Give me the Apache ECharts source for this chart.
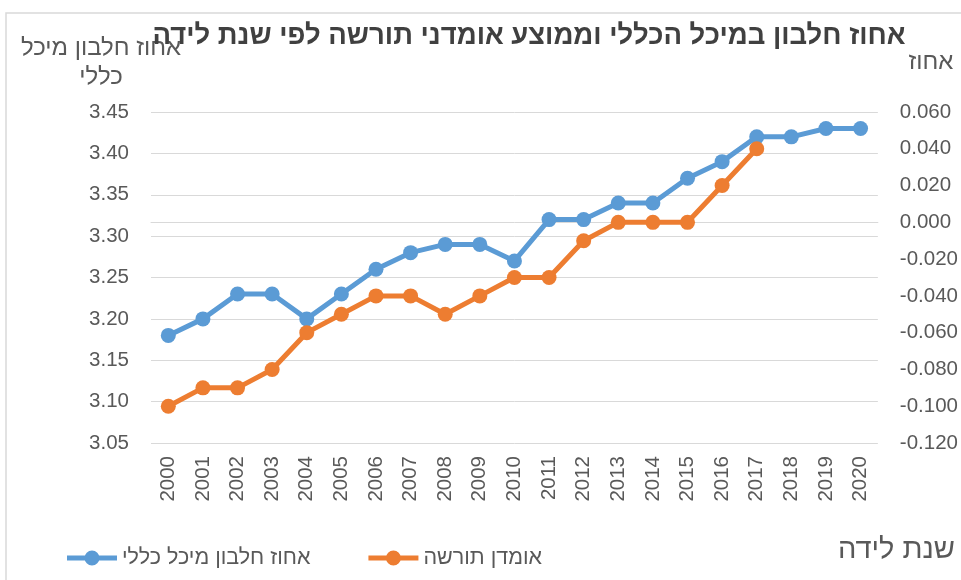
<!DOCTYPE html>
<html>
<head>
<meta charset="utf-8">
<script src="https://cdn.jsdelivr.net/npm/echarts@6/dist/echarts.min.js"></script>
<style>
html, body { margin: 0; padding: 0; background: #fff; }
#main { width: 961px; height: 580px; }
</style>
</head>
<body>
<div id="main"></div>
<script>
// שנות לידה
var years = ['2000','2001','2002','2003','2004','2005','2006','2007','2008','2009','2010',
             '2011','2012','2013','2014','2015','2016','2017','2018','2019','2020'];
// אחוז חלבון מיכל כללי (left axis)
var proteinPct = [3.18, 3.20, 3.23, 3.23, 3.20, 3.23, 3.26, 3.28, 3.29, 3.29, 3.27,
                  3.32, 3.32, 3.34, 3.34, 3.37, 3.39, 3.42, 3.42, 3.43, 3.43];
// אומדן תורשה (right axis)
var breedingValue = [-0.100, -0.090, -0.090, -0.080, -0.060, -0.050, -0.040, -0.040, -0.050, -0.040, -0.030,
                     -0.030, -0.010, 0.000, 0.000, 0.000, 0.020, 0.040, null, null, null];

var FONT = '"Liberation Sans", "DejaVu Sans", sans-serif';
var TXT = '#595959';
var GRID_LINE = '#d9d9d9';
// legend icon: thick line with a dot in the middle (like Excel)
var LEG_ICON = 'path://M0,5 L50,5 L50,10 L0,10 Z M17.5,7.5 A7.5,7.5 0 1,1 32.5,7.5 A7.5,7.5 0 1,1 17.5,7.5 Z';

var chart = echarts.init(document.getElementById('main'));
chart.setOption({
    animation: false,
    textStyle: { fontFamily: FONT },
    title: {
        text: 'אחוז חלבון במיכל הכללי וממוצע אומדני תורשה לפי שנת לידה',
        left: 524,
        textAlign: 'center',
        top: 17,
        textStyle: { fontFamily: FONT, fontSize: 27.5, fontWeight: 'bold', color: '#404040' }
    },
    legend: {
        left: 62,
        top: 542,
        itemWidth: 50,
        itemHeight: 15,
        itemGap: 58,
        textStyle: { fontFamily: FONT, fontSize: 21.5, color: TXT },
        data: [
            { name: 'אחוז חלבון מיכל כללי', icon: LEG_ICON },
            { name: 'אומדן תורשה', icon: LEG_ICON }
        ]
    },
    grid: { left: 151, right: 83, top: 112, bottom: 137 }, // גבולות שטח הציור
    xAxis: {
        type: 'category',
        data: years,
        axisTick: { show: false },
        axisLine: { lineStyle: { color: GRID_LINE, width: 1 } },
        axisLabel: { rotate: 90, fontSize: 20.5, color: TXT, margin: 13 }
    },
    yAxis: [{
        type: 'value',
        min: 3.05,
        max: 3.45,
        interval: 0.05,
        name: 'אחוז חלבון מיכל\nכללי',
        nameLocation: 'end',
        nameGap: 20,
        nameTextStyle: { fontSize: 24, color: TXT, align: 'center', lineHeight: 29, padding: [0, 100, 0, 0] },
        axisLine: { show: false },
        axisTick: { show: false },
        axisLabel: { fontSize: 20.5, color: TXT, margin: 22, formatter: function (v) { return v.toFixed(2); } },
        splitLine: { lineStyle: { color: GRID_LINE, width: 1 } }
    }, {
        type: 'value',
        min: -0.12,
        max: 0.06,
        interval: 0.02,
        name: 'אחוז',
        nameLocation: 'end',
        nameGap: 38,
        nameTextStyle: { fontSize: 24, color: TXT, align: 'center', padding: [0, 0, 0, 106] },
        axisLine: { show: false },
        axisTick: { show: false },
        axisLabel: { fontSize: 20.5, color: TXT, margin: 22, formatter: function (v) { return v.toFixed(3); } },
        splitLine: { show: false }
    }],
    graphic: [{
        type: 'rect',
        shape: { x: 6, y: 13, width: 970, height: 590 },
        style: { fill: 'none', stroke: GRID_LINE, lineWidth: 1.5 },
        silent: true
    }, {
        type: 'text',
        right: 6,
        top: 535,
        style: { text: 'שנת לידה', fontFamily: FONT, fontSize: 29, fill: TXT }
    }],
    series: [{
        name: 'אחוז חלבון מיכל כללי',
        type: 'line',
        yAxisIndex: 0,
        data: proteinPct,
        symbol: 'circle',
        symbolSize: 15,
        itemStyle: { color: '#5B9BD5' },
        lineStyle: { color: '#5B9BD5', width: 5 }
    }, {
        name: 'אומדן תורשה',
        type: 'line',
        yAxisIndex: 1,
        data: breedingValue,
        symbol: 'circle',
        symbolSize: 15,
        itemStyle: { color: '#ED7D31' },
        lineStyle: { color: '#ED7D31', width: 5 }
    }]
});
</script>
</body>
</html>
